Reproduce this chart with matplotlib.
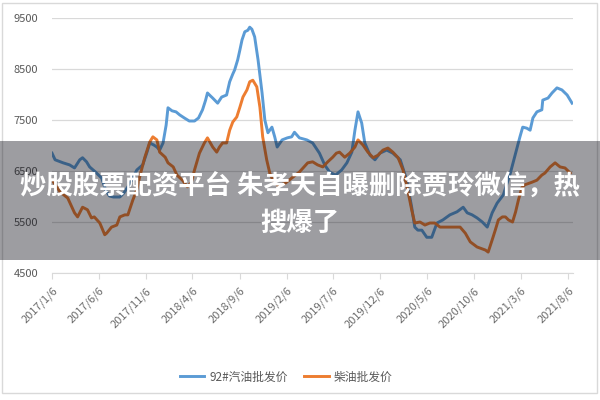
import pandas as pd
import matplotlib
matplotlib.use("Agg")
import matplotlib.pyplot as plt
from matplotlib.patches import Rectangle

plt.rcParams['font.family'] = ['Noto Sans CJK SC', 'DejaVu Sans']

# --------------------------------------------------------------------------------
# Data
# --------------------------------------------------------------------------------
gas_dates = [
    "2017-01-06", "2017-01-16", "2017-02-11", "2017-03-04", "2017-03-20", "2017-04-06",
    "2017-04-15", "2017-04-28", "2017-05-08", "2017-05-27", "2017-06-16", "2017-06-29",
    "2017-07-11", "2017-07-24", "2017-08-14", "2017-08-27", "2017-09-09", "2017-09-25",
    "2017-10-08", "2017-10-27", "2017-11-10", "2017-11-19", "2017-12-02", "2017-12-12",
    "2017-12-21", "2018-01-01", "2018-01-11", "2018-01-17", "2018-01-30", "2018-02-12",
    "2018-02-24", "2018-03-11", "2018-03-27", "2018-04-13", "2018-04-26", "2018-05-09",
    "2018-05-19", "2018-05-25", "2018-06-04", "2018-06-11", "2018-06-27", "2018-07-10",
    "2018-07-26", "2018-08-05", "2018-08-15", "2018-08-21", "2018-08-31", "2018-09-07",
    "2018-09-14", "2018-09-23", "2018-10-03", "2018-10-09", "2018-10-16", "2018-10-25",
    "2018-11-05", "2018-11-18", "2018-11-27", "2018-12-07", "2018-12-20", "2018-12-29",
    "2019-01-06", "2019-01-22", "2019-02-08", "2019-02-22", "2019-03-03", "2019-03-19",
    "2019-04-12", "2019-05-01", "2019-05-23", "2019-06-09", "2019-06-25", "2019-07-14",
    "2019-08-03", "2019-08-20", "2019-09-05", "2019-09-15", "2019-09-25", "2019-10-07",
    "2019-10-17", "2019-11-03", "2019-11-19", "2019-12-05", "2019-12-27", "2020-01-16",
    "2020-02-09", "2020-03-01", "2020-03-17", "2020-03-27", "2020-04-06", "2020-04-19",
    "2020-05-05", "2020-05-21", "2020-06-07", "2020-06-26", "2020-07-19", "2020-08-11",
    "2020-08-31", "2020-09-13", "2020-09-29", "2020-10-15", "2020-11-01", "2020-11-17",
    "2020-12-03", "2020-12-19", "2021-01-08", "2021-01-31", "2021-02-17", "2021-03-03",
    "2021-03-12", "2021-03-25", "2021-04-05", "2021-04-14", "2021-04-27", "2021-05-13",
    "2021-05-16", "2021-06-02", "2021-06-15", "2021-07-01", "2021-07-17", "2021-08-03",
    "2021-08-19",
]
gas_price = [
    6850, 6720, 6660, 6620, 6560, 6720,
    6760, 6680, 6580, 6480, 6360, 6130,
    6010, 5990, 5990, 6070, 6190, 6360,
    6520, 6620, 6870, 7050, 7010, 6970,
    6910, 7050, 7400, 7740, 7680, 7660,
    7600, 7540, 7480, 7480, 7540, 7700,
    7890, 8030, 7970, 7930, 7830, 7950,
    7990, 8250, 8400, 8480, 8680, 8870,
    9070, 9230, 9260, 9320, 9280, 9130,
    8680, 8030, 7500, 7250, 7360, 7170,
    6970, 7110, 7150, 7170, 7260, 7150,
    7110, 7050, 6850, 6620, 6480, 6420,
    6520, 6660, 6870, 7300, 7660, 7440,
    7050, 6810, 6720, 6850, 6910, 6850,
    6720, 6320, 5790, 5400, 5340, 5340,
    5200, 5200, 5480, 5540, 5640, 5700,
    5790, 5680, 5640, 5580, 5500, 5400,
    5680, 5870, 6030, 6460, 6850, 7170,
    7360, 7340, 7300, 7540, 7660, 7700,
    7890, 7930, 8030, 8130, 8090, 7990,
    7830,
]

diesel_dates = [
    "2017-01-06", "2017-01-22", "2017-02-01", "2017-02-26", "2017-03-20", "2017-03-30",
    "2017-04-15", "2017-05-01", "2017-05-14", "2017-05-23", "2017-06-10", "2017-06-26",
    "2017-07-02", "2017-07-18", "2017-08-04", "2017-08-14", "2017-08-30", "2017-09-09",
    "2017-09-25", "2017-10-08", "2017-10-17", "2017-11-03", "2017-11-19", "2017-11-29",
    "2017-12-12", "2017-12-21", "2018-01-08", "2018-01-17", "2018-02-03", "2018-02-15",
    "2018-03-05", "2018-03-21", "2018-04-03", "2018-04-13", "2018-04-29", "2018-05-15",
    "2018-05-25", "2018-06-11", "2018-06-24", "2018-07-03", "2018-07-13", "2018-07-26",
    "2018-08-05", "2018-08-15", "2018-08-28", "2018-09-07", "2018-09-17", "2018-09-30",
    "2018-10-09", "2018-10-19", "2018-11-01", "2018-11-11", "2018-11-20", "2018-12-03",
    "2018-12-13", "2018-12-23", "2019-01-09", "2019-02-01", "2019-02-26", "2019-03-19",
    "2019-04-15", "2019-05-01", "2019-05-17", "2019-06-03", "2019-06-19", "2019-07-05",
    "2019-07-17", "2019-07-27", "2019-08-13", "2019-08-29", "2019-09-15", "2019-09-25",
    "2019-10-11", "2019-10-27", "2019-11-13", "2019-11-29", "2019-12-15", "2019-12-31",
    "2020-01-16", "2020-02-02", "2020-02-18", "2020-03-04", "2020-03-17", "2020-03-27",
    "2020-04-13", "2020-04-29", "2020-05-15", "2020-05-31", "2020-06-17", "2020-07-09",
    "2020-07-29", "2020-08-21", "2020-09-07", "2020-09-23", "2020-10-15", "2020-11-11",
    "2020-11-20", "2020-12-03", "2020-12-13", "2020-12-23", "2021-01-05", "2021-01-15",
    "2021-01-25", "2021-02-07", "2021-02-17", "2021-02-26", "2021-03-09", "2021-03-19",
    "2021-04-11", "2021-04-27", "2021-05-13", "2021-05-23", "2021-06-09", "2021-06-25",
    "2021-07-11", "2021-07-27", "2021-08-13",
]
diesel_price = [
    6320, 6190, 6090, 5970, 5680, 5600,
    5790, 5740, 5580, 5600, 5480, 5250,
    5280, 5400, 5440, 5600, 5640, 5640,
    5930, 6130, 6380, 6770, 7070, 7170,
    7110, 6870, 6770, 6660, 6580, 6420,
    6320, 6190, 6280, 6520, 6850, 7050,
    7150, 6970, 6870, 6970, 7050, 7050,
    7300, 7460, 7560, 7750, 7950, 8090,
    8250, 8280, 8150, 7750, 7170, 6720,
    6460, 6320, 6210, 6260, 6380, 6480,
    6660, 6680, 6620, 6580, 6680, 6770,
    6850, 6870, 6770, 6850, 6970, 7110,
    7010, 6870, 6760, 6810, 6910, 6950,
    6870, 6760, 6520, 6130, 5740, 5480,
    5500, 5440, 5480, 5480, 5400, 5400,
    5400, 5400, 5280, 5110, 5010, 4950,
    4910, 5150, 5340, 5540, 5600, 5600,
    5540, 5500, 5700, 5930, 6170, 6230,
    6280, 6320, 6420, 6460, 6580, 6660,
    6580, 6560, 6460,
]

tick_labels = ["2017/1/6", "2017/6/6", "2017/11/6", "2018/4/6", "2018/9/6", "2019/2/6",
               "2019/7/6", "2019/12/6", "2020/5/6", "2020/10/6", "2021/3/6", "2021/8/6"]
y_ticks = [4500, 5500, 6500, 7500, 8500, 9500]

series_names = ["92#汽油批发价", "柴油批发价"]
headline = "炒股股票配资平台 朱孝天自曝删除贾玲微信，热\n搜爆了"

# --------------------------------------------------------------------------------
# Plot
# --------------------------------------------------------------------------------
fig = plt.figure(figsize=(6, 4), dpi=100)
ax = fig.add_axes([52 / 600, 1 - 273 / 400, 521 / 600, 255 / 400])

ax.plot(pd.to_datetime(gas_dates), gas_price, color="#5b9bd5", lw=2.1,
        label=series_names[0], solid_joinstyle="round")
ax.plot(pd.to_datetime(diesel_dates), diesel_price, color="#ed7d31", lw=2.1,
        label=series_names[1], solid_joinstyle="round")

ticks = pd.to_datetime(tick_labels, format="%Y/%m/%d")
ax.set_xticks(ticks)
ax.set_xticklabels(tick_labels, rotation=45, ha="right", va="top",
                   rotation_mode="anchor", fontsize=8, color="#6b6b6b")
ax.set_xlim(ticks[0], pd.Timestamp("2021-08-22"))

ax.set_ylim(4500, 9500)
ax.set_yticks(y_ticks)
ax.set_yticklabels([str(v) for v in y_ticks], fontsize=8, color="#595959")

ax.grid(axis="y", color="#d9d9d9", lw=0.9)
ax.set_axisbelow(True)
for side in ["top", "right", "left"]:
    ax.spines[side].set_visible(False)
ax.spines["bottom"].set_color("#d9d9d9")
ax.tick_params(axis="y", length=0, pad=10)
ax.tick_params(axis="x", length=4, color="#d9d9d9", pad=5)

leg = fig.legend(loc="center", bbox_to_anchor=(286 / 600, 1 - 377 / 400), ncol=2,
                 frameon=False, fontsize=8.5, handlelength=2.1, columnspacing=1.4,
                 handletextpad=0.4)
for t in leg.get_texts():
    t.set_color("#595959")

# chart border
fig.add_artist(Rectangle((2 / 600, 1 - 393 / 400), 595 / 600, 390 / 400,
                         transform=fig.transFigure, fill=False,
                         edgecolor="#d9d9d9", lw=1))

# grey banner with headline
fig.add_artist(Rectangle((0, 1 - 260 / 400), 1, 119 / 400, transform=fig.transFigure,
                         facecolor="#0a0a14", alpha=0.4, edgecolor="none", zorder=5))
fig.text(0.5, 1 - 205 / 400, headline, ha="center", va="center", fontsize=19,
         fontweight="bold", color="white", linespacing=1.45, zorder=6)

fig.savefig("out.png", dpi=100)
